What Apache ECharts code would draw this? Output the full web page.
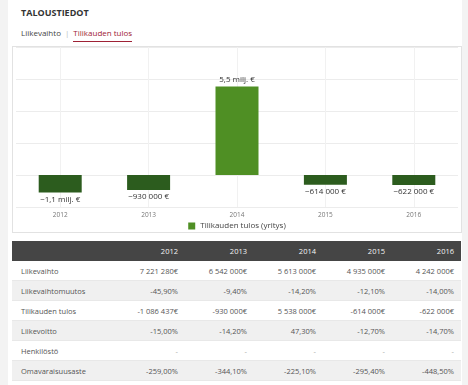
<!DOCTYPE html>
<html><head><meta charset="utf-8">
<script src="https://cdn.jsdelivr.net/npm/echarts@6/dist/echarts.min.js"></script>
<style>
html,body{margin:0;padding:0;width:468px;height:385px;overflow:hidden;background:#f3f3f3;font-family:"Open Sans",sans-serif;}
#page{position:absolute;left:8px;top:0;width:454px;height:385px;background:#fff;}
#title{position:absolute;left:21px;top:6px;font-size:9px;font-weight:bold;color:#333;}
#tabs{position:absolute;left:21px;top:27px;font-size:8px;color:#444;white-space:nowrap;}
#tabs .sep{color:#bbb;margin:0 4px;}
#tabs .act{color:#9e2235;border-bottom:1.5px solid #9e2235;padding-bottom:3px;}
#box{position:absolute;left:12px;top:46px;width:450px;height:187px;border:1px solid #e2e2e2;box-sizing:border-box;background:#fff;}
#chart{width:448px;height:185px;}
table{position:absolute;left:12px;top:241px;width:449px;border-collapse:collapse;font-size:7.5px;color:#555;table-layout:fixed;}
td,th{height:19px;padding:0 7px 0 0;text-align:right;font-weight:normal;border-bottom:1px solid #e8e8e8;white-space:nowrap;}
th{background:#454545;color:#f4f4f4;border-bottom:none;height:20px;}
td.lbl,th.lbl{text-align:left;padding-left:9px;}
tr.alt td{background:#f0f0f0;}
</style></head>
<body>
<div id="page"></div>
<div id="title">TALOUSTIEDOT</div>
<div id="tabs">Liikevaihto<span class="sep">|</span><span class="act">Tilikauden tulos</span></div>
<div id="box"><div id="chart"></div></div>
<table id="tbl"></table>
<script>
var years = ['2012','2013','2014','2015','2016'];
var tulos = [-1086437, -930000, 5538000, -614000, -622000];
var seriesName = 'Tilikauden tulos (yritys)';
var rowLabels = ['Liikevaihto','Liikevaihtomuutos','Tilikauden tulos','Liikevoitto','Henkilöstö','Omavaraisuusaste'];
var rowLiikevaihto = ['7 221 280€','6 542 000€','5 613 000€','4 935 000€','4 242 000€'];
var rowMuutos = ['-45,90%','-9,40%','-14,20%','-12,10%','-14,00%'];
var rowTulos = ['-1 086 437€','-930 000€','5 538 000€','-614 000€','-622 000€'];
var rowLiikevoitto = ['-15,00%','-14,20%','47,30%','-12,70%','-14,70%'];
var rowHenkilosto = ['-','-','-','-','-'];
var rowOmavarais = ['-259,00%','-344,10%','-225,10%','-295,40%','-448,50%'];
var yMin = -2000000, yMax = 8000000, yInterval = 2000000;

function fmt(v){
  var s = v < 0 ? '\u2212' : '';
  var a = Math.abs(v);
  if (a >= 1e6) return s + (Math.round(a/1e5)/10).toFixed(1).replace('.', ',') + ' milj. €';
  var r = Math.round(a/1000)*1000;
  return s + String(r).replace(/\B(?=(\d{3})+(?!\d))/g, ' ') + ' €';
}

var tbl = document.getElementById('tbl');
var html = '<colgroup><col style="width:104px">' + years.map(function(){return '<col style="width:69px">';}).join('') + '</colgroup>';
html += '<tr><th class="lbl"></th>' + years.map(function(y){return '<th>'+y+'</th>';}).join('') + '</tr>';
var rows = [rowLiikevaihto,rowMuutos,rowTulos,rowLiikevoitto,rowHenkilosto,rowOmavarais];
rows.forEach(function(r,i){
  html += '<tr' + (i%2===1?' class="alt"':'') + '><td class="lbl">'+rowLabels[i]+'</td>' + r.map(function(c){return '<td'+(c==='-'?' style="color:#aaa"':'')+'>'+c+'</td>';}).join('') + '</tr>';
});
tbl.innerHTML = html;

var chart = echarts.init(document.getElementById('chart'), null, {renderer:'canvas'});
chart.setOption({
  animation:false,
  grid:{left:3,right:3,top:0,bottom:25,containLabel:false},
  legend:{show:true,top:175,left:'center',icon:'rect',itemWidth:7,itemHeight:7,itemGap:4,padding:0,
    textStyle:{fontSize:8,color:'#444',fontFamily:'Open Sans'},data:[seriesName]},
  xAxis:{type:'category',data:years,axisLine:{show:false},axisTick:{show:false},
    axisLabel:{fontSize:6.5,color:'#777',margin:5,fontFamily:'Open Sans'},splitLine:{show:false}},
  yAxis:{type:'value',min:yMin,max:yMax,interval:yInterval,axisLabel:{show:false},axisLine:{show:false},axisTick:{show:false},
    splitLine:{lineStyle:{color:'#ececec',width:1}}},
  series:[{
    name:seriesName,type:'bar',barWidth:43,
    itemStyle:{color:'#4f8f24'},
    data:tulos.map(function(v){
      return {value:v,
        itemStyle:{color: v<0 ? '#2c5c1e' : '#4f8f24'},
        label:{show:true,position: v<0 ? 'bottom':'top',distance:3,formatter:function(p){return fmt(p.value);},
          fontSize:8,color:'#333',fontFamily:'Open Sans'}};
    }),
    markLine:{silent:true,symbol:'none',label:{show:false},lineStyle:{color:'#f1f1f1',type:'solid',width:1},z:0,
      data:years.map(function(y){return {xAxis:y};})}
  }]
});
</script>
</body></html>
